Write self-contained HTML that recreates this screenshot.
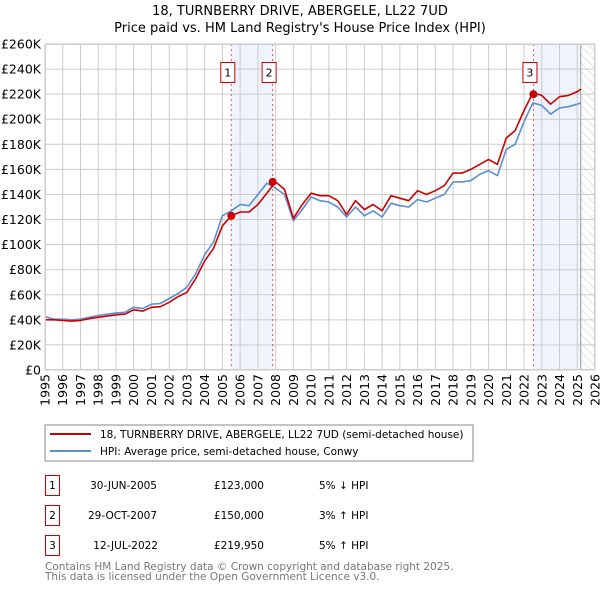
<!DOCTYPE html>
<html><head><meta charset="utf-8"><style>
body{margin:0;background:#fff;}
svg{display:block;font-family:"DejaVu Sans","Liberation Sans",sans-serif;}
</style></head><body>
<svg id="chart" width="600" height="590" viewBox="0 0 600 590">
<defs><pattern id="hatch" width="6" height="6" patternUnits="userSpaceOnUse" patternTransform="rotate(-45)"><line x1="0" y1="0" x2="0" y2="6" stroke="#ccc" stroke-width="1"/></pattern></defs>
<text x="300" y="15" text-anchor="middle" font-size="13">18, TURNBERRY DRIVE, ABERGELE, LL22 7UD</text>
<text x="300" y="32" text-anchor="middle" font-size="13">Price paid vs. HM Land Registry's House Price Index (HPI)</text>
<g id="plot"></g>
<rect x="45" y="425" width="428" height="36" fill="#fff" stroke="#888"/>
<line x1="50" y1="434" x2="91" y2="434" stroke="#cc0000" stroke-width="2"/>
<text x="100" y="438" font-size="10.5">18, TURNBERRY DRIVE, ABERGELE, LL22 7UD (semi-detached house)</text>
<line x1="50" y1="451" x2="91" y2="451" stroke="#5b8fd0" stroke-width="2"/>
<text x="100" y="455" font-size="10.5">HPI: Average price, semi-detached house, Conwy</text>
<g font-size="10.5">
<rect x="45.5" y="475.5" width="14" height="20" fill="#fff" stroke="#cc0000"/><text x="52.5" y="489" text-anchor="middle">1</text>
<text x="157" y="489" text-anchor="end">30-JUN-2005</text><text x="264" y="489" text-anchor="end">£123,000</text><text x="319" y="489">5% ↓ HPI</text>
<rect x="45.5" y="505.5" width="14" height="20" fill="#fff" stroke="#cc0000"/><text x="52.5" y="519" text-anchor="middle">2</text>
<text x="157" y="519" text-anchor="end">29-OCT-2007</text><text x="264" y="519" text-anchor="end">£150,000</text><text x="319" y="519">3% ↑ HPI</text>
<rect x="45.5" y="535.5" width="14" height="20" fill="#fff" stroke="#cc0000"/><text x="52.5" y="549" text-anchor="middle">3</text>
<text x="158" y="549" text-anchor="end">12-JUL-2022</text><text x="264" y="549" text-anchor="end">£219,950</text><text x="319" y="549">5% ↑ HPI</text>
</g>
<text x="45" y="570" font-size="10.5" fill="#777">Contains HM Land Registry data © Crown copyright and database right 2025.</text>
<text x="45" y="580" font-size="10.5" fill="#777">This data is licensed under the Open Government Licence v3.0.</text>
</svg>
<script>
const years=[1995,1995.5,1996,1996.5,1997,1997.5,1998,1998.5,1999,1999.5,2000,2000.5,2001,2001.5,2002,2002.5,2003,2003.5,2004,2004.5,2005,2005.5,2006,2006.5,2007,2007.5,2008,2008.5,2009,2009.5,2010,2010.5,2011,2011.5,2012,2012.5,2013,2013.5,2014,2014.5,2015,2015.5,2016,2016.5,2017,2017.5,2018,2018.5,2019,2019.5,2020,2020.5,2021,2021.5,2022,2022.5,2023,2023.5,2024,2024.5,2025,2025.2];
const hpiValues=[42.5,40.5,40.5,40,40.5,42,43.5,44.5,45.5,46,50,49,52.5,53,57,61,66,77,92,102,123,127,132,131,140,149,145,140,119,128,138,135,134,130,122,130,123,127,122,133,131,130,136,134,137,140,150,150,151,156,159,155,176,180,198,213,211,204,209,210,212,213];
const propValues=[40,40,39.5,39,39.5,41,42,43,44,44.5,48,47,50,50.5,54,58.5,62,73,87,97,115,123,126,126,132,141,150,144,121,132,141,139,139,135,124,135,128,132,127,139,137,135,143,140,143,147,157,157,160,164,168,164,185,191,207,221,219,212,218,219,222,224];
const saleYears=[2005.5,2007.83,2022.53];
const salePrices=[123,150,219.95];
const saleLabels=["1","2","3"];
const yTicks=[0,20,40,60,80,100,120,140,160,180,200,220,240,260];
const xTicks=[1995,1996,1997,1998,1999,2000,2001,2002,2003,2004,2005,2006,2007,2008,2009,2010,2011,2012,2013,2014,2015,2016,2017,2018,2019,2020,2021,2022,2023,2024,2025,2026];
const dataEnd=2025.2;

const NS="http://www.w3.org/2000/svg";
const L=45,R=595,T=44,B=370;
const xs=y=>L+(y-1995)/(2026-1995)*(R-L);
const ys=v=>B-v/260*(B-T);
const g=document.getElementById('plot');
function mk(tag,attrs,parent){const e=document.createElementNS(NS,tag);for(const k in attrs)e.setAttribute(k,attrs[k]);(parent||g).appendChild(e);return e;}

let e;
e=mk('rect',{x:L,y:T,width:R-L,height:B-T,fill:'#fff'});


for(let i=0;i<saleYears.length;i+=2){
  const x2=i+1<saleYears.length?saleYears[i+1]:dataEnd;
  e=mk('rect',{x:xs(saleYears[i]),y:T,width:xs(x2)-xs(saleYears[i]),height:B-T,fill:'#eef3fc'});
  
  
}
e=mk('rect',{x:xs(dataEnd),y:T,width:R-xs(dataEnd),height:B-T,fill:'url(#hatch)'});


yTicks.forEach(v=>{
  e=mk('line',{x1:L,x2:R,y1:ys(v),y2:ys(v),stroke:'#ccc','stroke-width':1});
  
  
  e=mk('text',{x:L-4,y:ys(v)+4.5,'text-anchor':'end','font-size':12.5});
  e.textContent=v===0?'£0':'£'+v+'K';
  
  
});
xTicks.forEach(y=>{
  e=mk('line',{x1:xs(y),x2:xs(y),y1:T,y2:B,stroke:'#ccc','stroke-width':1});
  
  
  e=mk('text',{x:0,y:0,'text-anchor':'end','font-size':12.5,transform:`translate(${xs(y)+4.5},${B+4}) rotate(-90)`});
  e.textContent=y;
  
  
});
e=mk('line',{x1:xs(dataEnd),x2:xs(dataEnd),y1:T,y2:B,stroke:'#999','stroke-width':1});


saleYears.forEach((s,i)=>{
  e=mk('line',{x1:xs(s),x2:xs(s),y1:T,y2:B,stroke:'#e05555','stroke-width':1,'stroke-dasharray':'2,3'});
  
  
});
function path(vals,color,name){
  const d=years.map((y,i)=>(i?'L':'M')+xs(y).toFixed(1)+','+ys(vals[i]).toFixed(1)).join('');
  e=mk('path',{d:d,fill:'none',stroke:color,'stroke-width':1.6,'stroke-linejoin':'round'});
  
  
}
path(hpiValues,'#5b8fd0','hpi-line');
path(propValues,'#cc0000','property-line');
saleYears.forEach((s,i)=>{
  e=mk('circle',{cx:xs(s),cy:ys(salePrices[i]),r:4,fill:'#cc0000'});
  
  
  e=mk('rect',{x:xs(s)-10.5,y:62.5,width:14,height:20,fill:'#fff',stroke:'#cc0000'});
  
  
  e=mk('text',{x:xs(s)-3.5,y:76.5,'text-anchor':'middle','font-size':11});
  e.textContent=saleLabels[i];
  
  
});
e=mk('rect',{x:L+0.5,y:T+0.5,width:R-L-1,height:B-T-1,fill:'none',stroke:'#ccc'});


</script>
</body></html>
